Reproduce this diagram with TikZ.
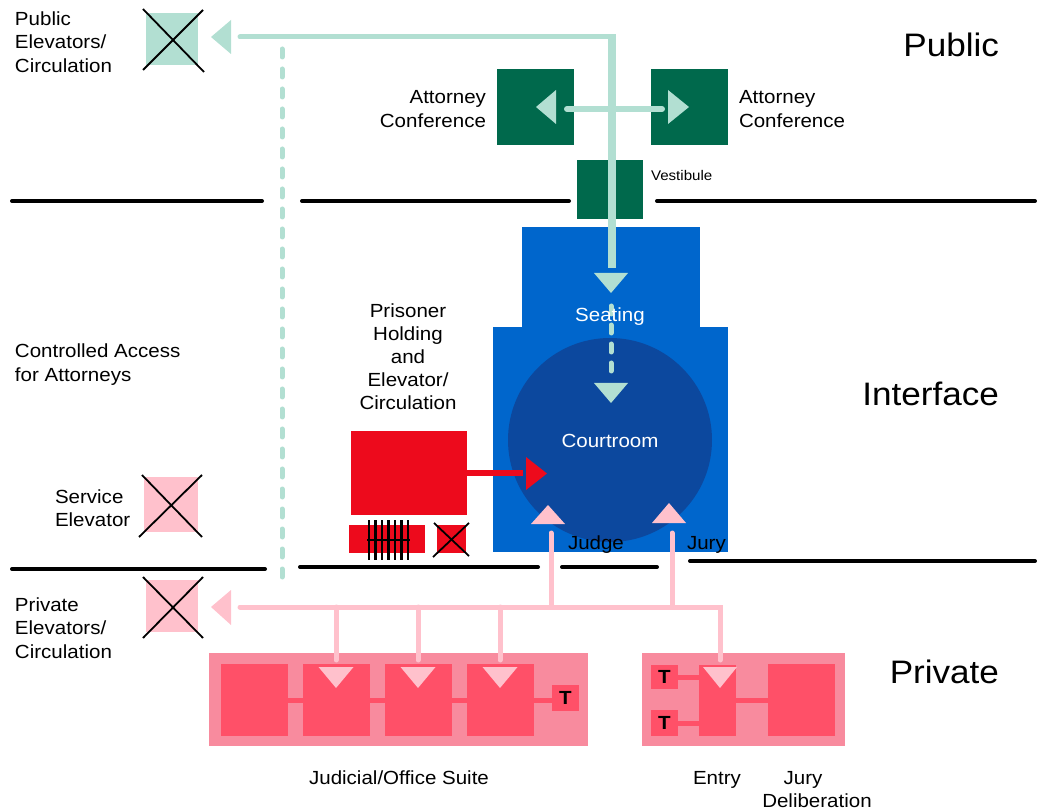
\documentclass[tikz,border=0pt]{standalone}
\usepackage{fontspec}
\setmainfont{Liberation Sans}[FakeStretch=1.08]
\usetikzlibrary{calc}
\definecolor{cTeal}{RGB}{178,223,210}
\definecolor{cGreen}{RGB}{0,105,76}
\definecolor{cBlue}{RGB}{0,102,204}
\definecolor{cCircle}{RGB}{12,72,158}
\definecolor{cRed}{RGB}{237,10,28}
\definecolor{cPink}{RGB}{255,193,204}
\definecolor{cSuite}{RGB}{248,139,158}
\definecolor{cRoom}{RGB}{255,80,104}
\newcommand{\mylines}[2]{\begin{tabular}[t]{@{}#1@{}}#2\end{tabular}}
\begin{document}
\begin{tikzpicture}[x=1pt,y=-1pt,
  box/.style={rectangle,draw=none,inner sep=0pt,outer sep=0pt},
  txt/.style={inner sep=0pt,outer sep=0pt,font=\fontsize{19}{23.6}\selectfont},
  bigtxt/.style={inner sep=0pt,outer sep=0pt,font=\fontsize{32.5}{38}\selectfont},
  tlab/.style={inner sep=0pt,outer sep=0pt,font=\bfseries\fontsize{19}{22}\selectfont},
  wall/.style={black,line width=4pt,line cap=round},
  xline/.style={black,line width=1.8pt},
  tealline/.style={cTeal,line width=5pt,line cap=round},
  tealdash/.style={cTeal,line width=5pt,line cap=round,dash pattern=on 8pt off 12pt},
  pinkline/.style={cPink,line width=5pt,line cap=round},
  roomline/.style={cRoom,line width=5pt}
]
\useasboundingbox (0,0) rectangle (1037,810);

% ---------- walls ----------
\draw[wall] (12,201) -- (262,201);
\draw[wall] (302,201) -- (569,201);
\draw[wall] (657,201) -- (1035,201);
\draw[wall] (12,569) -- (265,569);
\draw[wall] (300,567) -- (538,567);
\draw[wall] (562,567) -- (657,567);
\draw[wall] (690,561) -- (1035,561);

% ---------- courtroom block ----------
\node[box,fill=cBlue,minimum width=178pt,minimum height=101pt] (bldUp) at (611,277.5) {};
\node[box,fill=cBlue,minimum width=235pt,minimum height=225pt] (bldLow) at (610.5,439.5) {};
\node[circle,fill=cCircle,minimum size=204pt,inner sep=0pt,outer sep=0pt] (court) at (610,440) {};

% ---------- elevators ----------
\node[box,fill=cTeal,minimum width=52pt,minimum height=52pt] (pubElev) at (172,39) {};
\draw[xline] ($(pubElev.north west)+(-3,-4)$) -- ($(pubElev.south east)+(6,7)$);
\draw[xline] ($(pubElev.north east)+(5,-3)$) -- ($(pubElev.south west)+(-3,5)$);

\node[box,fill=cPink,minimum width=54pt,minimum height=55pt] (servElev) at (171,504.5) {};
\draw[xline] ($(servElev.south west)+(-5,5)$) -- ($(servElev.north east)+(4,-2)$);
\draw[xline] ($(servElev.north west)+(-2,-2)$) -- ($(servElev.south east)+(4,5)$);

\node[box,fill=cPink,minimum width=52pt,minimum height=52pt] (privElev) at (172,606) {};
\draw[xline] ($(privElev.north west)+(-3,-3)$) -- ($(privElev.south east)+(5,6)$);
\draw[xline] ($(privElev.north east)+(5,-3)$) -- ($(privElev.south west)+(-3,6)$);

% ---------- attorney conference + vestibule ----------
\node[box,fill=cGreen,minimum width=77pt,minimum height=76pt] (attL) at (535.5,107) {};
\node[box,fill=cGreen,minimum width=77pt,minimum height=76pt] (attR) at (689.5,107) {};
\node[box,fill=cGreen,minimum width=66pt,minimum height=59pt] (vest) at (610,189.5) {};

% ---------- public circulation ----------
\coordinate (pA) at (240,37);
\coordinate (pB) at (612,37);
\coordinate (pC) at (612,268);
\draw[tealline] (pA) -- (pB);
\draw[cTeal,line width=8.5pt] ($(pB)+(0,-2.5)$) -- (pC);
\fill[cTeal] (211,37) -- (231,20) -- (231,54) -- cycle;
\fill[cTeal] (594,273) -- (628,273) -- (611,293) -- cycle;
% attorney link
\coordinate (aL) at (567,109);
\coordinate (aR) at (662,109);
\draw[tealline,line width=6pt] (aL) -- (aR);
\fill[cTeal] (536,107) -- (556,90) -- (556,124) -- cycle;
\fill[cTeal] (689,107) -- (668,90) -- (668,124) -- cycle;
% dashed to courtroom
\coordinate (sA) at (611,306);
\coordinate (sB) at (611,378);
\draw[cTeal,line width=5pt,line cap=round,dash pattern=on 8pt off 11pt] (sA) -- (sB);
\fill[cTeal] (594,383) -- (628,383) -- (611,403) -- cycle;
% controlled access dashed
\coordinate (cA) at (282,49);
\coordinate (cB) at (282,588);
\draw[tealdash] (cA) -- (cB);

% ---------- prisoner holding ----------
\node[box,fill=cRed,minimum width=116pt,minimum height=84pt] (hold) at (409,473) {};
\coordinate (rA) at (hold.east);
\coordinate (rB) at (523,473);
\draw[cRed,line width=6pt] (rA) -- (rB);
\fill[cRed] (526,457) -- (526,490) -- (547,473.5) -- cycle;
\node[box,fill=cRed,minimum width=76pt,minimum height=28pt] (cell) at (387,539) {};
\foreach \hx in {369,375.5,382,388.5,395,401.5,408}{
  \draw[black,line width=2.2pt] (\hx,520) -- (\hx,560);
}
\draw[black,line width=2pt] (367,540) -- (410,540);
\node[box,fill=cRed,minimum width=29pt,minimum height=28pt] (pElev) at (451.5,539) {};
\draw[xline] ($(pElev.south west)+(-4,4)$) -- ($(pElev.north east)+(3,-2)$);
\draw[xline] ($(pElev.north west)+(-3,-2)$) -- ($(pElev.south east)+(3,3)$);

% ---------- private suites ----------
\node[box,fill=cSuite,minimum width=379pt,minimum height=93pt] (judSuite) at (398.5,699.5) {};
\node[box,fill=cRoom,minimum width=67pt,minimum height=72pt] (j1) at (254.5,700) {};
\node[box,fill=cRoom,minimum width=67pt,minimum height=72pt] (j2) at (336.5,700) {};
\node[box,fill=cRoom,minimum width=67pt,minimum height=72pt] (j3) at (418.5,700) {};
\node[box,fill=cRoom,minimum width=67pt,minimum height=72pt] (j4) at (500.5,700) {};
\node[box,fill=cRoom,minimum width=27pt,minimum height=26pt] (jT) at (565.5,698) {};
\draw[roomline] (j1.east) -- (j2.west);
\draw[roomline] (j2.east) -- (j3.west);
\draw[roomline] (j3.east) -- (j4.west);
\draw[roomline] (j4.east) -- (jT.west |- j4.east);
\node[tlab] (jTt) at (jT.center) {T};

\node[box,fill=cSuite,minimum width=203pt,minimum height=93pt] (jurySuite) at (743.5,699.5) {};
\node[box,fill=cRoom,minimum width=37pt,minimum height=71pt] (entry) at (717.5,700.5) {};
\node[box,fill=cRoom,minimum width=67pt,minimum height=72pt] (delib) at (801.5,700) {};
\node[box,fill=cRoom,minimum width=27pt,minimum height=24pt] (eT1) at (664.5,677) {};
\node[box,fill=cRoom,minimum width=27pt,minimum height=26pt] (eT2) at (664.5,723) {};
\draw[roomline] (eT1.east) -- (entry.west |- eT1.east);
\draw[roomline] (eT2.east) -- (entry.west |- eT2.east);
\draw[roomline] (entry.east |- delib.west) -- (delib.west);
\node[tlab] (eT1t) at (eT1.center) {T};
\node[tlab] (eT2t) at (eT2.center) {T};

% ---------- private circulation ----------
\coordinate (qA) at (240,607);
\coordinate (qB) at (720,607);
\coordinate (qC) at (720,660);
\draw[pinkline] (qA) -- (qB) -- (qC);
\fill[cPink] (211,607) -- (231,590) -- (231,625) -- cycle;
\coordinate (jgA) at (551,533);
\coordinate (jyA) at (672,533);
\draw[pinkline] (jgA) -- (jgA |- qA);
\draw[pinkline] (jyA) -- (jyA |- qA);
\fill[cPink] (531,524) -- (565,524) -- (548,505) -- cycle;
\fill[cPink] (652,523) -- (686,523) -- (669,503) -- cycle;
\foreach \dx/\nm in {336/d1,418/d2,500/d3}{
  \coordinate (\nm a) at (\dx,607);
  \coordinate (\nm b) at (\dx,660);
  \draw[pinkline] (\nm a) -- (\nm b);
  \fill[cPink] ($(\nm b)+(-17.5,7)$) -- ($(\nm b)+(17.5,7)$) -- ($(\nm b)+(0,28)$) -- cycle;
}
\fill[cPink] (703,667) -- (737,667) -- (720,688) -- cycle;

% ---------- texts ----------
\node[txt,anchor=base west] (tPubElev) at (15,25.3) {\mylines{l}{Public\\Elevators/\\Circulation}};
\node[txt,anchor=base west] (tCtrl) at (15,357.5) {\mylines{l}{Controlled Access\\for Attorneys}};
\node[txt,anchor=base west] (tServ) at (55,503) {\mylines{l}{Service\\Elevator}};
\node[txt,anchor=base west] (tPriv) at (15,611) {\mylines{l}{Private\\Elevators/\\Circulation}};
\node[txt,anchor=base,font=\fontsize{19}{23}\selectfont] (tPris) at (408,318) {\mylines{c}{Prisoner\\Holding\\and\\Elevator/\\Circulation}};
\node[txt,anchor=base east] (tAttL) at (486,104) {\mylines{r}{Attorney\\Conference}};
\node[txt,anchor=base west] (tAttR) at (739,104) {\mylines{l}{Attorney\\Conference}};
\node[txt,anchor=base west,font=\fontsize{14}{17}\selectfont] (tVest) at (651,181) {Vestibule};
\node[txt,anchor=base,text=white] (tSeat) at (610,322) {Seating};
\node[txt,anchor=base,text=white] (tCourt) at (610,448) {Courtroom};
\node[txt,anchor=base west] (tJudge) at (568,549) {Judge};
\node[txt,anchor=base west] (tJury) at (687,549) {Jury};
\node[bigtxt,anchor=base east] (tPublic) at (999,57) {Public};
\node[bigtxt,anchor=base east] (tInter) at (999,406) {Interface};
\node[bigtxt,anchor=base east] (tPrivate) at (999,683) {Private};
\node[txt,anchor=base] (tJud) at (399,784) {Judicial/Office Suite};
\node[txt,anchor=base] (tEntry) at (717,784) {Entry};
\node[txt,anchor=base] (tJury2) at (803,784) {Jury};
\node[txt,anchor=base] (tDelib) at (817,807) {Deliberation};
\end{tikzpicture}
\end{document}
